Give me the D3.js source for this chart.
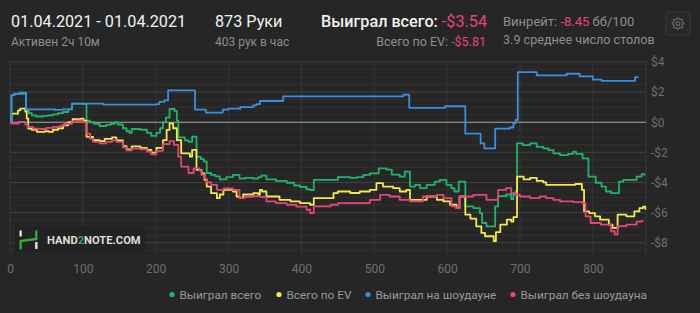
<!DOCTYPE html>
<html>
<head>
<meta charset="utf-8">
<script src="https://cdn.jsdelivr.net/npm/d3@7"></script>
<style>
  body { margin: 0; background: #262626; }
  svg { display: block; font-family: Roboto, "Noto Sans", sans-serif; }
</style>
</head>
<body>
<div id="chart"></div>
<script>
const width = 700;
const height = 313;

// [hand, $] pairs
const wonTotal = [[0,0],[2,1.8],[6,1.9],[13,1.96],[22,0.75],[26,0.6],[30,0.46],[36,0.38],[45,0.42],[52,0.46],[59,0.52],[66,0.6],[73,0.68],[80,0.85],[85,1.23],[101,1.2],[105,0.1],[110,0.0],[115,-0.1],[123,-0.25],[132,-0.18],[138,-0.1],[144,0.0],[148,-0.15],[155,-0.4],[160,-0.6],[164,-0.7],[167,-0.45],[179,-0.5],[188,-0.7],[194,-0.9],[201,-0.7],[206,-0.4],[210,0.0],[214,0.3],[219,0.88],[226,0.75],[229,0.1],[231,-1.0],[240,-1.2],[245,-1.3],[250,-0.95],[256,-2.3],[262,-2.45],[266,-2.6],[270,-3.37],[276,-3.5],[282,-3.6],[288,-3.8],[297,-3.65],[306,-3.5],[315,-3.75],[322,-3.7],[334,-3.75],[341,-3.65],[345,-3.55],[352,-3.8],[365,-3.9],[380,-4.02],[390,-4.2],[398,-4.3],[407,-4.45],[412,-4.5],[417,-3.83],[440,-3.83],[450,-3.65],[467,-3.7],[476,-3.65],[485,-3.5],[494,-3.4],[506,-3.06],[517,-3.15],[524,-3.48],[535,-3.61],[542,-3.28],[549,-4.27],[556,-4.16],[563,-4.38],[572,-4.16],[583,-3.94],[590,-3.83],[599,-4.16],[606,-4.38],[610,-4.6],[616,-3.94],[625,-5.59],[636,-5.7],[645,-6.03],[648,-6.69],[654,-6.91],[666,-5.59],[670,-4.91],[681,-4.8],[688,-5.1],[691,-4.8],[694,-4.6],[696,-1.41],[704,-1.52],[714,-1.41],[723,-1.63],[732,-1.74],[739,-1.85],[746,-2.07],[755,-2.18],[766,-2.1],[773,-1.96],[777,-2.1],[786,-2.4],[794,-3.61],[804,-4.02],[812,-4.27],[818,-4.6],[825,-4.71],[836,-3.94],[842,-3.83],[860,-3.61],[867,-3.45],[871,-3.54]];

const evTotal = [[0,0],[2,0.57],[11,0.79],[14,0.9],[21,0.7],[23,0.24],[25,-0.42],[30,-0.5],[37,-0.64],[48,-0.6],[53,-0.64],[59,-0.5],[66,-0.4],[73,-0.2],[80,0.0],[86,0.2],[97,0.24],[101,0.1],[105,-0.97],[114,-1.19],[123,-1.25],[130,-1.1],[140,-1.0],[146,-1.2],[155,-1.58],[160,-1.8],[167,-1.6],[179,-1.7],[188,-1.83],[194,-2.02],[201,-1.7],[210,-1.19],[215,-0.51],[219,-0.07],[224,-0.4],[229,-1.19],[235,-2.07],[247,-2.29],[250,-1.83],[256,-3.17],[263,-3.4],[267,-3.83],[270,-4.27],[276,-4.71],[284,-5.04],[288,-4.8],[293,-4.49],[306,-4.6],[311,-4.93],[315,-5.04],[320,-4.8],[334,-4.71],[341,-4.8],[343,-4.49],[346,-4.6],[352,-4.93],[370,-5.15],[385,-5.25],[398,-5.37],[412,-5.48],[417,-5.04],[440,-5.04],[444,-4.71],[450,-4.6],[467,-4.7],[480,-4.6],[494,-4.49],[503,-4.05],[512,-4.27],[526,-4.38],[535,-4.6],[544,-4.49],[549,-5.15],[572,-4.93],[586,-5.15],[595,-5.26],[604,-5.48],[613,-5.7],[617,-4.93],[625,-6.14],[632,-6.4],[640,-6.91],[647,-7.35],[652,-7.57],[664,-7.9],[667,-7.3],[673,-6.8],[682,-6.47],[688,-6.6],[691,-6.3],[696,-3.61],[705,-3.8],[714,-3.7],[723,-3.9],[732,-4.0],[736,-4.16],[760,-4.16],[776,-4.1],[785,-4.49],[788,-5.92],[795,-6.03],[803,-6.25],[810,-6.47],[822,-6.8],[827,-7.02],[834,-6.14],[846,-6.25],[857,-5.92],[864,-5.7],[869,-5.6],[872,-5.81]];

const showdown = [[0,0],[2,1.8],[6,1.88],[22,0.86],[62,0.82],[72,0.86],[85,1.24],[128,1.17],[201,1.2],[205,1.35],[212,1.45],[217,2.12],[254,0.84],[269,0.64],[292,0.84],[300,0.9],[316,1.0],[334,1.12],[338,1.2],[343,1.41],[375,1.72],[540,1.83],[548,0.95],[597,1.06],[625,-0.75],[646,-1.41],[651,-1.74],[666,-0.42],[686,-0.35],[691,-0.05],[694,0.15],[697,3.33],[723,3.11],[764,3.22],[782,3.05],[800,2.83],[812,2.74],[858,3.0],[862,3.02]];

const nonShowdown = [[0,0],[2,-0.09],[12,0.02],[21,-0.15],[24,-0.31],[32,-0.42],[41,-0.45],[50,-0.38],[59,-0.31],[69,-0.22],[75,-0.1],[85,0.05],[91,0.1],[100,0.0],[105,-0.75],[110,-1.1],[114,-1.3],[123,-1.4],[132,-1.3],[140,-1.2],[146,-1.3],[155,-1.67],[160,-1.87],[167,-1.75],[179,-1.8],[188,-1.95],[194,-2.13],[201,-1.9],[210,-1.45],[219,-1.25],[225,-1.5],[231,-2.29],[235,-2.95],[245,-3.37],[252,-3.06],[260,-3.2],[263,-3.5],[267,-3.75],[270,-4.0],[276,-4.16],[284,-4.49],[293,-4.4],[306,-4.49],[315,-5.04],[322,-4.95],[334,-4.9],[343,-4.95],[352,-5.26],[365,-5.37],[380,-5.48],[393,-5.6],[407,-5.81],[412,-6.03],[417,-5.59],[440,-5.48],[450,-5.37],[480,-5.37],[494,-5.15],[508,-4.82],[521,-4.93],[535,-5.15],[549,-5.26],[567,-4.93],[586,-4.82],[595,-5.04],[606,-5.59],[612,-5.7],[617,-4.93],[636,-4.82],[654,-5.15],[670,-4.49],[681,-4.38],[688,-4.71],[695,-4.82],[700,-4.93],[714,-5.04],[727,-4.93],[736,-5.04],[746,-5.15],[755,-5.26],[773,-5.3],[786,-5.37],[790,-6.25],[797,-6.69],[811,-6.8],[825,-7.24],[830,-7.46],[834,-6.9],[846,-6.8],[860,-6.6],[868,-6.5]];

const seriesNames = ["Выиграл всего", "Всего по EV", "Выиграл на шоудауне", "Выиграл без шоудауна"];
const seriesColors = ["#1fb46c", "#f2ec45", "#3a8fe3", "#e6457c"];
const seriesData = [wonTotal, evTotal, showdown, nonShowdown];

const xTicks = [0, 100, 200, 300, 400, 500, 600, 700, 800];
const yTicks = [4, 2, 0, -2, -4, -6, -8];
const totalHands = 873;

const svg = d3.select("#chart")
    .append("svg")
    .attr("width", width)
    .attr("height", height);

svg.append("rect")
    .attr("width", width)
    .attr("height", height)
    .attr("fill", "#262626");

const x = d3.scaleLinear().domain([0, totalHands]).range([10, 646]);
const y = d3.scaleLinear().domain([-8.75, 4]).range([254, 62]);

// header
const head = svg.append("g");
head.append("text").attr("x", 11).attr("y", 27).attr("font-size", 16.2).attr("fill", "#f2f2f2")
    .text("01.04.2021 - 01.04.2021");
head.append("text").attr("x", 11).attr("y", 45.5).attr("font-size", 12).attr("fill", "#8e8e8e")
    .text("Активен 2ч 10м");
head.append("text").attr("x", 215).attr("y", 27).attr("font-size", 16.2).attr("fill", "#f2f2f2")
    .text("873 Руки");
head.append("text").attr("x", 215).attr("y", 45.5).attr("font-size", 12).attr("fill", "#8e8e8e")
    .text("403 рук в час");

const won = head.append("text").attr("x", 487).attr("y", 27).attr("font-size", 16.2)
    .attr("text-anchor", "end").attr("font-weight", 500);
won.append("tspan").attr("fill", "#f2f2f2").text("Выиграл всего: ");
won.append("tspan").attr("fill", "#e6457c").attr("font-weight", 400).text("-$3.54");

const ev = head.append("text").attr("x", 486).attr("y", 45.5).attr("font-size", 12.5).attr("text-anchor", "end");
ev.append("tspan").attr("fill", "#8e8e8e").text("Всего по EV: ");
ev.append("tspan").attr("fill", "#e6457c").text("-$5.81");

const wr = head.append("text").attr("x", 503).attr("y", 26).attr("font-size", 13);
wr.append("tspan").attr("fill", "#8e8e8e").text("Винрейт: ");
wr.append("tspan").attr("fill", "#e6457c").text("-8.45");
wr.append("tspan").attr("fill", "#8e8e8e").text(" бб/100");
head.append("text").attr("x", 503).attr("y", 44).attr("font-size", 12.6).attr("fill", "#8e8e8e")
    .text("3.9 среднее число столов");

// settings button
const gear = svg.append("g").attr("transform", "translate(678,23.5)");
gear.append("rect").attr("x", -12).attr("y", -11.5).attr("width", 24).attr("height", 23).attr("rx", 3)
    .attr("fill", "#292929").attr("stroke", "#3a3a3a");
const teeth = d3.range(0, 16).map(i => {
    const a = i * Math.PI / 8;
    const r = i % 2 === 0 ? 6 : 4.4;
    return [Math.cos(a) * r, Math.sin(a) * r];
});
gear.append("path").attr("d", d3.line().curve(d3.curveLinearClosed)(teeth))
    .attr("fill", "none").attr("stroke", "#6e6e6e").attr("stroke-width", 1.1).attr("stroke-linejoin", "round");
gear.append("circle").attr("r", 2).attr("fill", "none").attr("stroke", "#6e6e6e").attr("stroke-width", 1.1);

// grid
const grid = svg.append("g");
grid.selectAll("line.minor")
    .data(d3.range(-8.5, 4.01, 0.5).filter(v => v % 2 !== 0))
    .enter().append("line")
    .attr("x1", x(0)).attr("x2", x(totalHands))
    .attr("y1", d => y(d)).attr("y2", d => y(d))
    .attr("stroke", "#313131");
grid.selectAll("line.major")
    .data(yTicks.filter(v => v !== 0))
    .enter().append("line")
    .attr("x1", x(0)).attr("x2", x(totalHands))
    .attr("y1", d => y(d)).attr("y2", d => y(d))
    .attr("stroke", "#404040");
grid.selectAll("line.vert")
    .data(xTicks.concat([totalHands]))
    .enter().append("line")
    .attr("x1", d => x(d)).attr("x2", d => x(d))
    .attr("y1", y(4)).attr("y2", y(-8.75))
    .attr("stroke", "#363636");
grid.append("line")
    .attr("x1", x(0)).attr("x2", x(totalHands))
    .attr("y1", y(0)).attr("y2", y(0))
    .attr("stroke", "#a8a8a8").attr("stroke-width", 1.2);

// axes (labels only)
const xAxis = svg.append("g")
    .attr("transform", `translate(0,${y(-8.75)})`)
    .call(d3.axisBottom(x).tickValues(xTicks).tickSize(0).tickPadding(10));
const yAxis = svg.append("g")
    .attr("transform", `translate(${x(totalHands)},0)`)
    .call(d3.axisRight(y).tickValues(yTicks).tickSize(0).tickPadding(5)
        .tickFormat(d => (d < 0 ? "-$" : "$") + Math.abs(d)));
[xAxis, yAxis].forEach(a => {
    a.select(".domain").remove();
    a.selectAll("text").attr("font-family", "Roboto, sans-serif").attr("font-size", 12).attr("fill", "#6f6f6f");
});

// watermark
const wm = svg.append("g");
wm.append("rect").attr("x", 15).attr("y", 226.5).attr("width", 130).attr("height", 25.5)
    .attr("fill", "#222222");
wm.append("rect").attr("x", 19.5).attr("y", 230.5).attr("width", 2.3).attr("height", 6).attr("fill", "#e8e8e8");
wm.append("rect").attr("x", 35.2).attr("y", 242).attr("width", 2.3).attr("height", 7).attr("fill", "#e8e8e8");
wm.append("path").attr("d", "M20.6,249.5 V241 L36.3,239 V230.5")
    .attr("fill", "none").attr("stroke", "#3daa3f").attr("stroke-width", 2.3);
const wmt = wm.append("text").attr("x", 47).attr("y", 243.5).attr("font-size", 11.2)
    .attr("font-weight", 700).attr("fill", "#dedede");
wmt.append("tspan").text("HAND");
wmt.append("tspan").attr("fill", "#3daa3f").text("2");
wmt.append("tspan").text("NOTE.COM");

// lines
const line = d3.line()
    .x(d => x(d[0]))
    .y(d => y(d[1]))
    .curve(d3.curveStepAfter);

svg.append("g").selectAll("path")
    .data(seriesData)
    .enter().append("path")
    .attr("d", line)
    .attr("fill", "none")
    .attr("stroke", (d, i) => seriesColors[i])
    .attr("stroke-width", 1.8)
    .attr("stroke-linejoin", "round");

// legend
const legendX = [172, 279, 368, 513];
const legend = svg.append("g").selectAll("g")
    .data(seriesNames)
    .enter().append("g")
    .attr("transform", (d, i) => `translate(${legendX[i]},294.5)`);
legend.append("circle").attr("r", 2.6).attr("fill", (d, i) => seriesColors[i]);
legend.append("text").attr("x", 7.5).attr("y", 4).attr("font-size", 11.8).attr("fill", "#9a9a9a")
    .text(d => d);
</script>
</body>
</html>
